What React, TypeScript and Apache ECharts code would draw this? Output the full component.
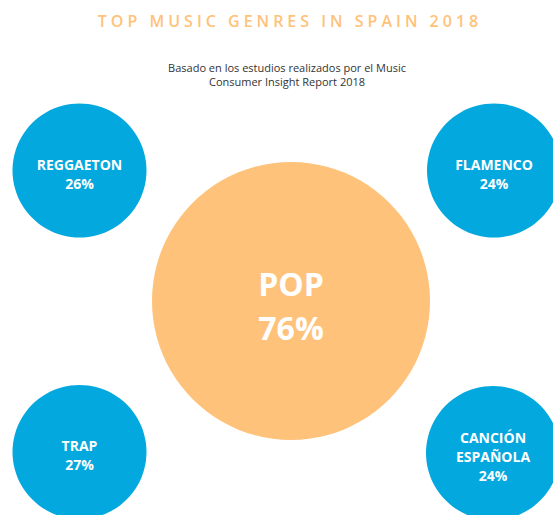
import React, { useEffect, useRef } from "react";
import * as echarts from "echarts";

const TITLE = "TOP MUSIC GENRES IN SPAIN 2018";
const SUBTITLE_LINES = [
  "Basado en los estudios realizados por el Music",
  "Consumer Insight Report 2018",
];

const genres = ["POP", "REGGAETON", "FLAMENCO", "TRAP", "CANCIÓN\nESPAÑOLA"];
const shares = [76, 26, 24, 27, 24];
// layout of the bubbles (chart units)
const colPos = [291, 79.5, 494, 79.5, 493];
const rowPos = [301, 170.5, 170.5, 452, 453];

const BLUE = "#03A8DE";
const ORANGE = "#FFC27B";

export default function App() {
  const ref = useRef<HTMLDivElement>(null);
  useEffect(() => {
    if (!ref.current) return;
    const chart = echarts.init(ref.current, null, { renderer: "svg" });
    const data = genres.map((g, i) => {
      const big = shares[i] >= 50;
      return {
        name: g,
        value: [colPos[i], rowPos[i], shares[i]],
        symbolSize: big ? 278 : 134,
        itemStyle: { color: big ? ORANGE : BLUE, opacity: 1 },
        label: {
          fontSize: big ? 32 : 14,
          lineHeight: big ? 44 : 19,
          offset: [0, big ? 4 : 3],
        },
      };
    });
    chart.setOption({
      animation: false,
      backgroundColor: "#ffffff",
      graphic: [
        {
          type: "text",
          x: 290,
          y: 21,
          style: {
            text: TITLE,
            fill: ORANGE,
            fontSize: 16,
            fontWeight: 600,
            fontFamily: "Open Sans",
            textAlign: "center",
            textVerticalAlign: "middle",
          },
        },
        {
          type: "text",
          x: 287,
          y: 67,
          style: {
            text: SUBTITLE_LINES[0],
            fill: "#333333",
            fontSize: 11,
            fontFamily: "Open Sans",
            textAlign: "center",
            textVerticalAlign: "middle",
          },
        },
        {
          type: "text",
          x: 287,
          y: 81,
          style: {
            text: SUBTITLE_LINES[1],
            fill: "#333333",
            fontSize: 11,
            fontFamily: "Open Sans",
            textAlign: "center",
            textVerticalAlign: "middle",
          },
        },
      ],
      grid: { left: 0, right: 0, top: 0, bottom: 0 },
      xAxis: { type: "value", min: 0, max: 553, show: false },
      yAxis: { type: "value", min: 0, max: 515, inverse: true, show: false },
      series: [
        {
          type: "scatter",
          clip: false,
          symbol: "circle",
          data,
          label: {
            show: true,
            position: "inside",
            color: "#ffffff",
            fontWeight: "bold",
            fontFamily: "Open Sans",
            formatter: (p: any) => `${p.name}\n${p.value[2]}%`,
          },
          emphasis: { disabled: true },
        },
      ],
    });
    const texts = ref.current.querySelectorAll("text");
    texts.forEach((t) => {
      if (t.textContent === TITLE) {
        (t as SVGTextElement).style.letterSpacing = "4px";
      }
    });
    return () => chart.dispose();
  }, []);
  return (
    <div
      ref={ref}
      style={{ position: "fixed", left: 0, top: 0, width: 553, height: 515 }}
    />
  );
}
